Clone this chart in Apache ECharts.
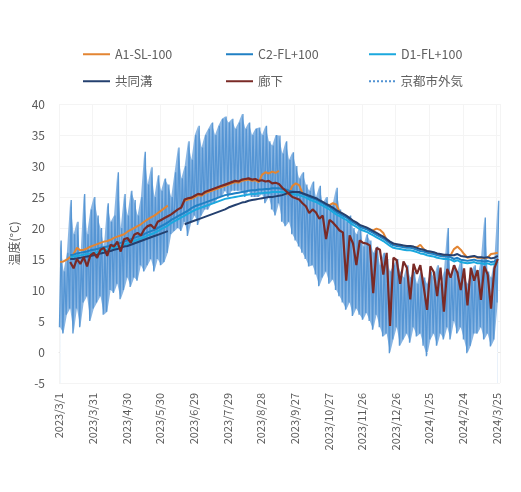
<!DOCTYPE html>
<html>
<head>
<meta charset="utf-8">
<script src="https://cdn.jsdelivr.net/npm/echarts@6/dist/echarts.min.js"></script>
<style>
  html, body { margin: 0; padding: 0; background: #ffffff; }
  #chart { width: 521px; height: 492px; }
</style>
</head>
<body>
<div id="chart"></div>
<script>
// Daily temperatures from 2023/3/1, sampled every 3 days (index k = day 3k .. 3k+2)
const STEP = 3;

const tickLabels = ['2023/3/1', '2023/3/31', '2023/4/30', '2023/5/30', '2023/6/29', '2023/7/29', '2023/8/28',
  '2023/9/27', '2023/10/27', '2023/11/26', '2023/12/26', '2024/1/25', '2024/2/24', '2024/3/25'];

// Outdoor air (京都市外気): highest and lowest reading in each 3-day sample
const outdoorHigh = [
  18, 13, 16, 24.5, 19, 21, 15, 25.5, 19, 23,
  25, 22, 20, 17, 24, 21, 22, 29, 20, 25.5,
  22, 26, 24.5, 22, 25, 32.3, 27, 29.8, 25, 28.5,
  26, 28, 27, 25, 29, 33, 28, 30, 34, 31,
  35, 36.5, 33, 35, 36, 37, 35, 36.5, 37.6, 38,
  37, 37.6, 36, 37, 38.4, 36, 37, 35, 36, 36.2,
  35, 36.5, 34, 33.3, 35, 34.9, 32, 34, 31, 32.2,
  30, 28, 29, 27, 26, 27.5, 25, 26.8, 24, 25,
  23, 24, 26.5, 23, 22, 21, 22, 20, 19, 20.3,
  17, 19, 18, 16, 17, 14, 16, 15, 13, 14,
  15, 13, 12, 14, 12, 13, 11, 13, 12, 11,
  13, 12, 14, 11, 13, 20, 12, 14, 13, 15,
  12, 11, 13, 14, 12, 15, 21.7, 13, 12, 15,
  24.4
];
const outdoorLow = [
  4, 3, 6, 7, 3, 7, 4, 8, 9, 5,
  7, 8, 9, 6, 6.5, 10, 9.5, 11, 8.5, 10,
  12, 10.5, 12, 11.5, 14, 13, 14, 15, 13, 15,
  14, 14.5, 16, 19, 19.5, 20, 19.5, 21, 18.7, 21,
  22, 20.5, 22, 23, 23, 24, 24, 25, 25, 26,
  25, 26, 26, 26, 26, 25, 26, 25, 25, 25,
  25.5, 24, 25, 23, 22, 24, 21, 20.3, 21, 19,
  18, 17, 16, 15, 13.8, 14, 12.5, 10.6, 12, 13,
  11, 11.7, 10, 9, 8, 6.8, 8, 5.8, 7, 6,
  5.2, 6.3, 5, 3.6, 6, 4, 2.5, 3, -0.2, 2,
  4, 1, 2, 3, 1.5, 4, 2.5, 3, 1, -0.7,
  2, 3, 1, 3, 2, 4, 2, 5, 3, 4,
  2, -0.2, 1, 3, 3, 4, 2, 3, 0.9, 2,
  8
];

// Indoor sensors, one value per 3-day sample (null = no record)
const a1 = [
  14.5, 14.6, 14.9, 15.3, 15.8, 16.8, 16.4, 16.5, 16.7, 17.0,
  17.2, 17.4, 17.6, 17.8, 17.9, 18.1, 18.4, 18.6, 18.8, 19.0,
  19.4, 19.7, 20.0, 20.3, 20.6, 21.0, 21.4, 21.7, 22.0, 22.4,
  22.8, 23.2, 23.6, null, null, null, null, 24.4, 24.6, 24.7,
  25.0, 25.3, 25.2, 25.6, 25.8, 26.0, 26.2, 26.4, 26.6, 26.8,
  27.0, 27.2, 27.4, 27.3, 27.6, 27.7, 27.8, 27.6, 27.7, 27.4,
  28.6, 29.0, 28.8, 29.1, 28.9, 29.2, null, 25.4, 25.6, 26.8,
  27.2, 26.9, 25.6, 25.3, 25.1, 24.9, 24.7, 24.4, 24.1, 23.8,
  23.7, 24.0, 23.8, 22.6, 22.2, 21.9, 21.5, 21.1, 20.8, 20.4,
  20.2, 20.0, 19.7, 19.6, 19.9, 19.7, 19.2, 18.1, 17.7, 17.4,
  17.3, 17.2, 17.1, 17.0, 17.0, 16.9, 16.9, 17.3, 16.6, 16.2,
  16.1, 16.0, 15.8, 15.7, 15.6, 15.6, 15.6, 16.6, 17.0, 16.5,
  15.8, 15.2, 15.3, 15.4, 15.2, 15.2, 15.1, 15.2, 15.8, 15.9,
  16.0
];
const c2 = [
  null, null, null, 15.6, 15.7, 15.9, 16.0, 16.1, 16.2, 16.4,
  16.5, 16.6, 16.8, 16.9, 17.0, 17.2, 17.3, 17.5, 17.6, 17.8,
  18.0, 18.2, 18.4, 18.6, 18.8, 19.0, 19.3, 19.5, 19.7, 20.0,
  20.3, 20.6, 20.9, 21.3, 21.6, 21.9, 22.2, 22.5, 22.8, 23.2,
  23.5, 23.7, 23.9, 24.1, 24.3, 24.5, 24.7, 24.9, 25.1, 25.3,
  25.4, 25.5, 25.6, 25.7, 25.8, 25.9, 26.0, 26.1, 26.1, 26.2,
  26.2, 26.3, 26.3, 26.4, 26.4, 26.4, 26.3, 26.2, 26.0, 25.9,
  25.8, 25.7, 25.5, 25.3, 25.0, 24.8, 24.6, 24.3, 24.0, 23.7,
  23.4, 23.0, 22.6, 22.3, 22.0, 21.7, 21.3, 20.9, 20.6, 20.2,
  20.0, 19.8, 19.5, 19.2, 18.9, 18.6, 18.3, 17.9, 17.5, 17.2,
  17.1, 17.0, 16.9, 16.8, 16.8, 16.7, 16.5, 16.3, 16.2, 16.0,
  15.9, 15.8, 15.6, 15.5, 15.4, 15.4, 15.3, 15.0, 15.2, 14.9,
  14.8, 14.7, 14.8, 14.9, 14.7, 14.7, 14.6, 14.7, 14.5, 14.6,
  15.0
];
const d1 = [
  null, null, null, 15.3, 15.4, 15.5, 15.6, 15.7, 15.8, 15.9,
  16.0, 16.1, 16.3, 16.4, 16.5, 16.7, 16.8, 17.0, 17.1, 17.3,
  17.5, 17.7, 17.9, 18.1, 18.3, 18.5, 18.8, 19.0, 19.2, 19.5,
  19.8, 20.1, 20.4, 20.8, 21.1, 21.4, 21.7, 22.0, 22.3, 22.6,
  22.9, 23.1, 23.3, 23.5, 23.7, 23.9, 24.1, 24.3, 24.5, 24.7,
  24.8, 24.9, 25.0, 25.1, 25.2, 25.3, 25.4, 25.5, 25.5, 25.6,
  25.6, 25.7, 25.7, 25.8, 25.8, 25.8, 25.8, 25.7, 25.6, 25.5,
  25.4, 25.3, 25.1, 24.9, 24.6, 24.4, 24.2, 23.9, 23.6, 23.3,
  23.0, 22.6, 22.2, 21.9, 21.6, 21.3, 20.9, 20.5, 20.2, 19.8,
  19.6, 19.4, 19.1, 18.8, 18.5, 18.2, 17.9, 17.5, 17.1, 16.8,
  16.7, 16.6, 16.5, 16.4, 16.4, 16.3, 16.1, 15.9, 15.8, 15.6,
  15.5, 15.4, 15.2, 15.1, 15.0, 15.0, 14.9, 14.6, 14.8, 14.5,
  14.4, 14.3, 14.4, 14.5, 14.3, 14.3, 14.2, 14.3, 14.1, 14.2,
  14.6
];
const kyodoko = [
  null, null, null, 15.0, 15.0, 15.1, 15.2, 15.3, 15.4, 15.5,
  15.6, 15.7, 15.9, 16.0, 16.2, 16.3, 16.5, 16.6, 16.8, 17.0,
  17.1, 17.3, 17.5, 17.7, 17.9, 18.1, 18.3, 18.5, 18.7, 18.9,
  19.1, 19.3, 19.5, null, null, null, null, 20.6, 20.8, 21.0,
  21.2, 21.4, 21.6, 21.8, 22.0, 22.2, 22.4, 22.6, 22.8, 23.0,
  23.3, 23.5, 23.7, 23.9, 24.1, 24.2, 24.4, 24.5, 24.6, 24.7,
  24.8, 24.9, 25.0, 25.0, 25.1, 25.2, 25.3, 25.5, 25.7, 25.8,
  25.8, 25.8, 25.6, 25.4, 25.2, 25.0, 24.8, 24.5, 24.2, 23.9,
  23.6, 23.3, 22.9, 22.6, 22.3, 22.0, 21.6, 21.2, 20.9, 20.5,
  20.3, 20.1, 19.8, 19.5, 19.2, 18.9, 18.6, 18.2, 17.8, 17.5,
  17.4, 17.3, 17.2, 17.1, 17.1, 17.0, 16.8, 16.6, 16.5, 16.3,
  16.2, 16.1, 15.9, 15.8, 15.7, 15.7, 15.6, 15.6, 15.8, 15.5,
  15.4, 15.3, 15.4, 15.5, 15.3, 15.3, 15.2, 15.3, 15.1, 15.2,
  15.5
];
const roka = [
  null, null, null, 14.5, 13.5, 15.0, 14.2, 15.3, 13.8, 15.6,
  16.0, 15.2, 16.5, 16.8, 15.5, 17.3, 17.0, 17.8, 16.2, 18.2,
  18.4, 17.6, 18.9, 19.2, 18.8, 19.8, 20.3, 20.5, 19.9, 21.0,
  21.3, 21.6, 21.9, 22.2, 22.6, 23.0, 23.3, 24.6, 24.8, 24.9,
  25.2, 25.5, 25.4, 25.8, 26.0, 26.2, 26.4, 26.6, 26.8, 27.0,
  27.2, 27.4, 27.6, 27.5, 27.8, 27.9, 28.0, 27.8, 27.9, 27.6,
  27.7, 27.5, 27.6, 27.2, 27.3, 27.1, 26.5, 26.0, 25.5, 25.0,
  24.8, 24.6, 24.0, 23.5, 22.4, 23.0, 22.5, 21.5, 22.0, 18.2,
  21.3, 20.9, 20.3, 19.6, 19.3, 11.5, 18.8, 17.5, 14.0, 18.0,
  17.6, 17.5, 17.2, 9.5, 16.8, 16.5, 12.5, 16.0, 4.2, 15.2,
  14.8, 11.0, 14.6, 13.6, 8.5, 14.2, 12.6, 14.0, 10.5, 6.8,
  13.8, 12.9, 9.0, 13.6, 6.5, 13.4, 12.0, 14.0, 12.8, 10.0,
  13.5, 7.5, 13.6, 11.5, 13.2, 8.4, 13.8, 12.5, 7.0, 13.5,
  15.0
];

// Build [day, value] pairs on the shared day axis
function dailyPairs(values) {
  return values.map((v, k) => [k * STEP + 1, v]);
}
function outdoorPairs(lows, highs) {
  const out = [];
  for (let k = 0; k < lows.length; k++) {
    out.push([k * STEP + 0.4, lows[k]]);
    out.push([k * STEP + 1.9, highs[k]]);
  }
  return out;
}

const colors = {
  'A1-SL-100': '#E38532',
  'C2-FL+100': '#2080C4',
  'D1-FL+100': '#1BA8DE',
  '共同溝': '#24406F',
  '廊下': '#7A2A26',
  '京都市外気': '#5293D3'
};

const FONT = '"Noto Sans CJK JP", "Noto Sans", sans-serif';
const LINE_ICON = 'rect';
const DOTTED_ICON = 'path://M0 0h2v2H0z M4 0h2v2H4z M8 0h2v2H8z M12 0h2v2h-2z M16 0h2v2h-2z M20 0h2v2h-2z M24 0h2v2h-2z';

function lineSeries(name, values, width, z) {
  return {
    name: name,
    type: 'line',
    data: dailyPairs(values),
    showSymbol: false,
    symbol: 'none',
    connectNulls: false,
    z: z,
    lineStyle: { width: width, color: colors[name] },
    itemStyle: { color: colors[name] },
    emphasis: { disabled: true }
  };
}

// Legend laid out in two rows of three
const legendSlots = [
  { name: 'A1-SL-100', left: 83, top: 48 },
  { name: 'C2-FL+100', left: 226, top: 48 },
  { name: 'D1-FL+100', left: 369, top: 48 },
  { name: '共同溝', left: 83, top: 75 },
  { name: '廊下', left: 226, top: 75 },
  { name: '京都市外気', left: 369, top: 75 }
];

const chart = echarts.init(document.getElementById('chart'), null, { renderer: 'canvas' });

chart.setOption({
  backgroundColor: '#ffffff',
  animation: false,
  textStyle: { fontFamily: FONT },
  legend: legendSlots.map(s => ({
    data: [{ name: s.name, icon: s.name === '京都市外気' ? DOTTED_ICON : LINE_ICON }],
    left: s.left,
    top: s.top,
    padding: 0,
    itemWidth: 27,
    itemHeight: 2,
    itemGap: 4,
    selectedMode: false,
    textStyle: { color: '#606060', fontSize: 12.5, fontFamily: FONT }
  })),
  grid: { left: 59, right: 21, top: 104, bottom: 109 },
  xAxis: {
    type: 'value',
    min: 0,
    max: 393,
    interval: 30,
    axisLine: { show: true, lineStyle: { color: '#e6e6e6' } },
    axisTick: { show: false },
    splitLine: { show: true, lineStyle: { color: '#f4f4f4', width: 1 } },
    axisLabel: {
      rotate: 90,
      margin: 10,
      color: '#595959',
      fontSize: 11,
      fontFamily: FONT,
      showMaxLabel: false,
      formatter: v => (v % 30 === 0 && tickLabels[v / 30]) ? tickLabels[v / 30] : ''
    }
  },
  yAxis: {
    type: 'value',
    min: -5,
    max: 40,
    interval: 5,
    name: '温度(°C)',
    nameLocation: 'middle',
    nameGap: 34,
    nameTextStyle: { color: '#595959', fontSize: 12, fontFamily: FONT },
    axisLine: { show: false },
    axisTick: { show: false },
    splitLine: { show: true, lineStyle: { color: '#f4f4f4', width: 1 } },
    axisLabel: { color: '#595959', fontSize: 12, margin: 14, fontFamily: FONT }
  },
  series: [
    // Daily swing of the outdoor air: shade up to each high, then clear below each low
    {
      name: 'outdoorHighShade',
      type: 'line',
      data: dailyPairs(outdoorHigh),
      symbol: 'none',
      lineStyle: { opacity: 0 },
      areaStyle: { color: '#8AB6E3', opacity: 1, origin: 'start' },
      z: 0,
      silent: true
    },
    {
      name: 'outdoorLowMask',
      type: 'line',
      data: dailyPairs(outdoorLow),
      symbol: 'none',
      lineStyle: { opacity: 0 },
      areaStyle: { color: '#ffffff', opacity: 1, origin: 'start' },
      z: 0.5,
      silent: true
    },
    {
      name: '京都市外気',
      type: 'line',
      data: outdoorPairs(outdoorLow, outdoorHigh),
      showSymbol: false,
      symbol: 'none',
      z: 1,
      lineStyle: { width: 1.3, color: colors['京都市外気'], opacity: 0.95 },
      itemStyle: { color: colors['京都市外気'] },
      emphasis: { disabled: true }
    },
    lineSeries('A1-SL-100', a1, 2, 2),
    lineSeries('C2-FL+100', c2, 2, 3),
    lineSeries('D1-FL+100', d1, 2, 4),
    lineSeries('共同溝', kyodoko, 2, 5),
    lineSeries('廊下', roka, 2.2, 6)
  ]
});
</script>
</body>
</html>
